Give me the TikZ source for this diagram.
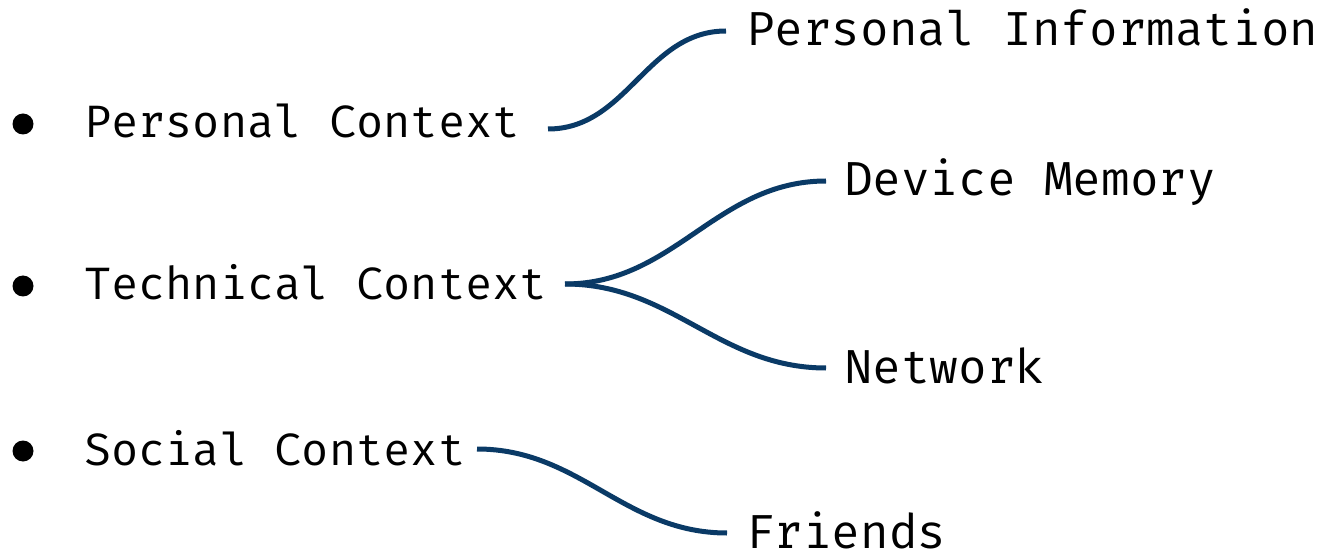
\documentclass[tikz,border=0pt]{standalone}
\usepackage{fontspec}
\IfFontExistsTF{Fira Mono}{\setmonofont{Fira Mono}}{\setmonofont{DejaVu Sans Mono}}
\begin{document}
\begin{tikzpicture}[x=1pt,y=1pt,
  lbl/.style={anchor=base west,inner sep=0pt,outer sep=0pt,
    font=\ttfamily\fontsize{47.7}{57}\selectfont},
  lbls/.style={lbl,font=\ttfamily\fontsize{45.4}{54}\selectfont},
  bul/.style={circle,fill=black,inner sep=0pt,minimum size=21pt},
  link/.style={draw=linkblue,line width=5pt},
]
\definecolor{linkblue}{RGB}{10,58,102}
\useasboundingbox (0,0) rectangle (1324,552);
% bullets
\node[bul] (b1) at (23,428) {};
\node[bul] (b2) at (23,266) {};
\node[bul] (b3) at (23,101) {};
% left labels
\node[lbls] (pc) at (84,414) {Personal Context};
\node[lbls] (tc) at (84,252) {Technical Context};
\node[lbls] (sc) at (84,87) {Social Context};
% right labels
\node[lbl] (pi) at (746,506) {Personal Information};
\node[lbl] (dm) at (844,356) {Device Memory};
\node[lbl] (nw) at (844,169) {Network};
\node[lbl] (fr) at (746,4) {Friends};
% connector end points
\coordinate (pc-o) at (548,423);
\coordinate (tc-o) at (565,268);
\coordinate (sc-o) at (477,103);
\coordinate (pi-i) at (726,521);
\coordinate (dm-i) at (826,371);
\coordinate (nw-i) at (826,184);
\coordinate (fr-i) at (727,19);
% connectors
\draw[link] (pc-o) to[out=0,in=180] (pi-i);
\draw[link] (tc-o) to[out=0,in=180] (dm-i);
\draw[link] (tc-o) to[out=0,in=180] (nw-i);
\draw[link] (sc-o) to[out=0,in=180] (fr-i);
\end{tikzpicture}
\end{document}
